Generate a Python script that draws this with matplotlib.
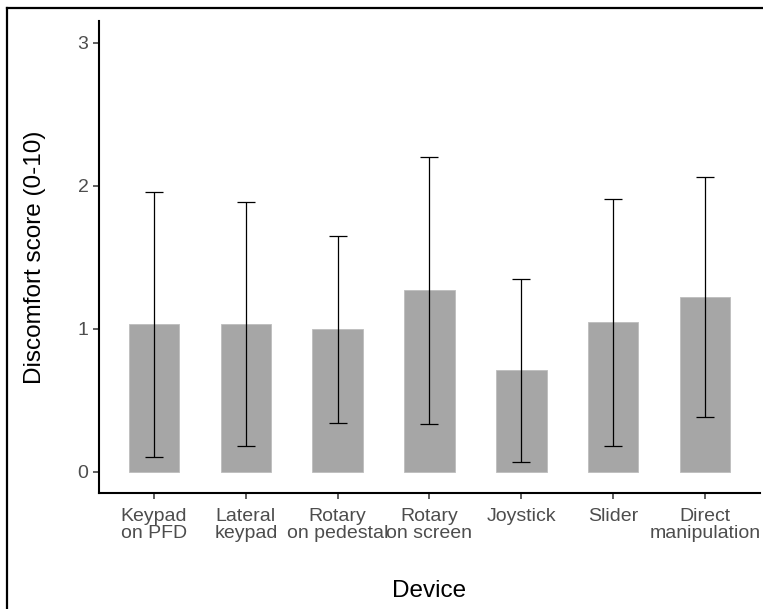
import numpy as np
import matplotlib.pyplot as plt
from matplotlib.lines import Line2D

plt.rcParams['font.family'] = ['Liberation Sans', 'DejaVu Sans']

devices = ['Keypad\non PFD', 'Lateral\nkeypad', 'Rotary\non pedestal', 'Rotary\non screen',
           'Joystick', 'Slider', 'Direct\nmanipulation']
means = [1.03, 1.035, 0.995, 1.27, 0.71, 1.045, 1.225]
lower = [0.10, 0.18, 0.34, 0.33, 0.07, 0.18, 0.38]
upper = [1.96, 1.89, 1.65, 2.20, 1.35, 1.91, 2.06]

fig = plt.figure(figsize=(7.63, 6.09), dpi=100)
ax = fig.add_axes([0.1297, 0.1905, 0.8663, 0.7742])

x = np.arange(1, len(devices) + 1)
m = np.array(means)
ax.bar(x, m, width=0.55, color='#a6a6a6', edgecolor='#bdbdbd', linewidth=0.6, zorder=2)
ax.errorbar(x, m, yerr=[m - np.array(lower), np.array(upper) - m], fmt='none',
            ecolor='black', elinewidth=0.9, capsize=6.5, capthick=0.9, zorder=3)

ax.set_xlim(0.4, 7.6)
ax.set_ylim(-0.15, 3.15)
ax.set_yticks([0, 1, 2, 3])
ax.set_xticks(x)
ax.set_xticklabels(devices, linespacing=1.0)
ax.tick_params(axis='both', labelsize=14, labelcolor='#4d4d4d', color='#333333',
               length=4, width=1.1)
ax.tick_params(axis='x', pad=7)
for s in ['top', 'right']:
    ax.spines[s].set_visible(False)
for s in ['left', 'bottom']:
    ax.spines[s].set_linewidth(1.5)
ax.set_xlabel('Device', fontsize=17.5, labelpad=27)
ax.set_ylabel('Discomfort score (0-10)', fontsize=17.5, labelpad=23)

# outer frame (left and top edges visible)
fig.add_artist(Line2D([0.0092, 0.0092], [0, 0.987], transform=fig.transFigure, color='black', lw=1.6))
fig.add_artist(Line2D([0.0092, 1], [0.987, 0.987], transform=fig.transFigure, color='black', lw=1.6))

fig.savefig('out.png', dpi=100)
